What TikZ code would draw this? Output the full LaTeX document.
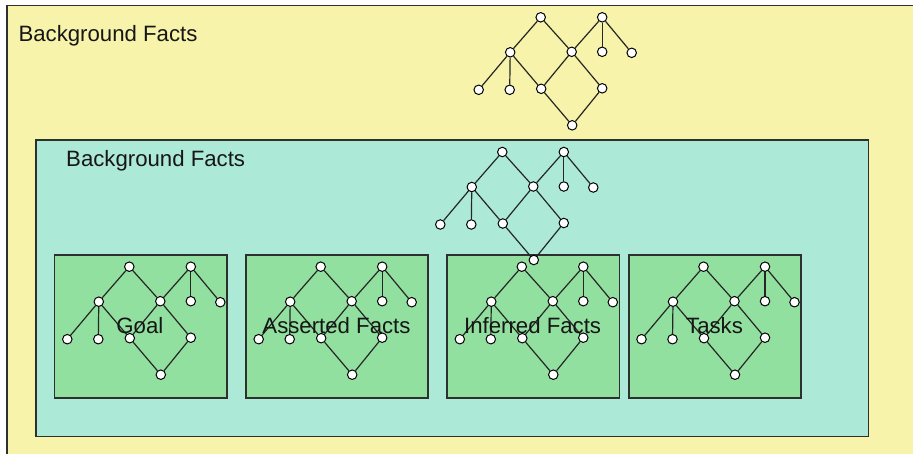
\documentclass[tikz,border=0pt]{standalone}
\usepackage{fontspec}
\setmainfont{Liberation Sans}
\definecolor{outerfill}{RGB}{247,243,170}
\definecolor{midfill}{RGB}{172,234,215}
\definecolor{innerfill}{RGB}{145,224,160}
\definecolor{boxline}{RGB}{45,48,45}
\definecolor{labeltext}{RGB}{22,22,22}
\begin{document}
\begin{tikzpicture}[x=1pt,y=-1pt,
  dot/.style={circle,draw=black,fill=white,line width=1pt,inner sep=0pt,minimum size=9.5pt},
  edge/.style={line width=1.2pt,draw=black!85},
  panel/.style={draw=boxline,line width=1.6pt,anchor=north west,inner sep=0pt},
  caption/.style={font=\fontsize{22.2}{26}\selectfont,text=labeltext,inner sep=0pt},
  lattice/.pic={
    \foreach \n/\px/\py in {t1/0/0, t2/61.5/0, a/-30.5/35, b/31/34.5, c/61.5/34.5,
        d/91/35.5, e/-62/72.5, f/-31/72.5, g/0.5/71.5, h/61.5/71, i/31.5/108}
      \node[dot] (-\n) at (\px,\py) {};
    \draw[edge] (-t1) -- (-a);
    \draw[edge] (-t1) -- (-b);
    \draw[edge] (-t2) -- (-b);
    \draw[edge] (-t2) -- (-c);
    \draw[edge] (-t2) -- (-d);
    \draw[edge] (-a) -- (-e);
    \draw[edge] (-a) -- (-f);
    \draw[edge] (-a) -- (-g);
    \draw[edge] (-b) -- (-g);
    \draw[edge] (-b) -- (-h);
    \draw[edge] (-g) -- (-i);
    \draw[edge] (-h) -- (-i);
  }]
\useasboundingbox (0,0) rectangle (913,453);
\clip (0,0) rectangle (913,453);

% outermost layer
\node[panel,fill=outerfill,minimum width=930pt,minimum height=470pt] (outer) at (6,4.5) {};
\node[caption,anchor=base west] (outerlabel) at (18.3,41) {Background Facts};
\pic (outertree) at (540.7,17.3) {lattice};

% middle layer
\node[panel,fill=midfill,minimum width=832.7pt,minimum height=296.7pt] (mid) at (35,139) {};
\node[caption,anchor=base west] (midlabel) at (66,166) {Background Facts};

% inner panels
\node[panel,fill=innerfill,minimum width=172.3pt,minimum height=143.3pt] (goal) at (53.7,254) {};
\node[panel,fill=innerfill,minimum width=182.3pt,minimum height=143.3pt] (asserted) at (245,254) {};
\node[panel,fill=innerfill,minimum width=172.4pt,minimum height=143.3pt] (inferred) at (446.3,254) {};
\node[panel,fill=innerfill,minimum width=172.3pt,minimum height=143.3pt] (tasks) at (628,254) {};

\pic (goaltree) at (129.3,266.7) {lattice};
\pic (assertedtree) at (320.7,266.7) {lattice};
\pic (inferredtree) at (521.8,266.7) {lattice};
\pic (taskstree) at (703.5,266.7) {lattice};

\node[caption,anchor=base] (goallabel) at (139.9,333.4) {Goal};
\node[caption,anchor=base] (assertedlabel) at (336.5,333.4) {Asserted Facts};
\node[caption,anchor=base] (inferredlabel) at (532.6,333.4) {Inferred Facts};
\node[caption,anchor=base] (taskslabel) at (714.5,333.4) {Tasks};

% middle-layer lattice sits on top of the inner panels
\pic (midtree) at (502.3,152) {lattice};
\end{tikzpicture}
\end{document}
